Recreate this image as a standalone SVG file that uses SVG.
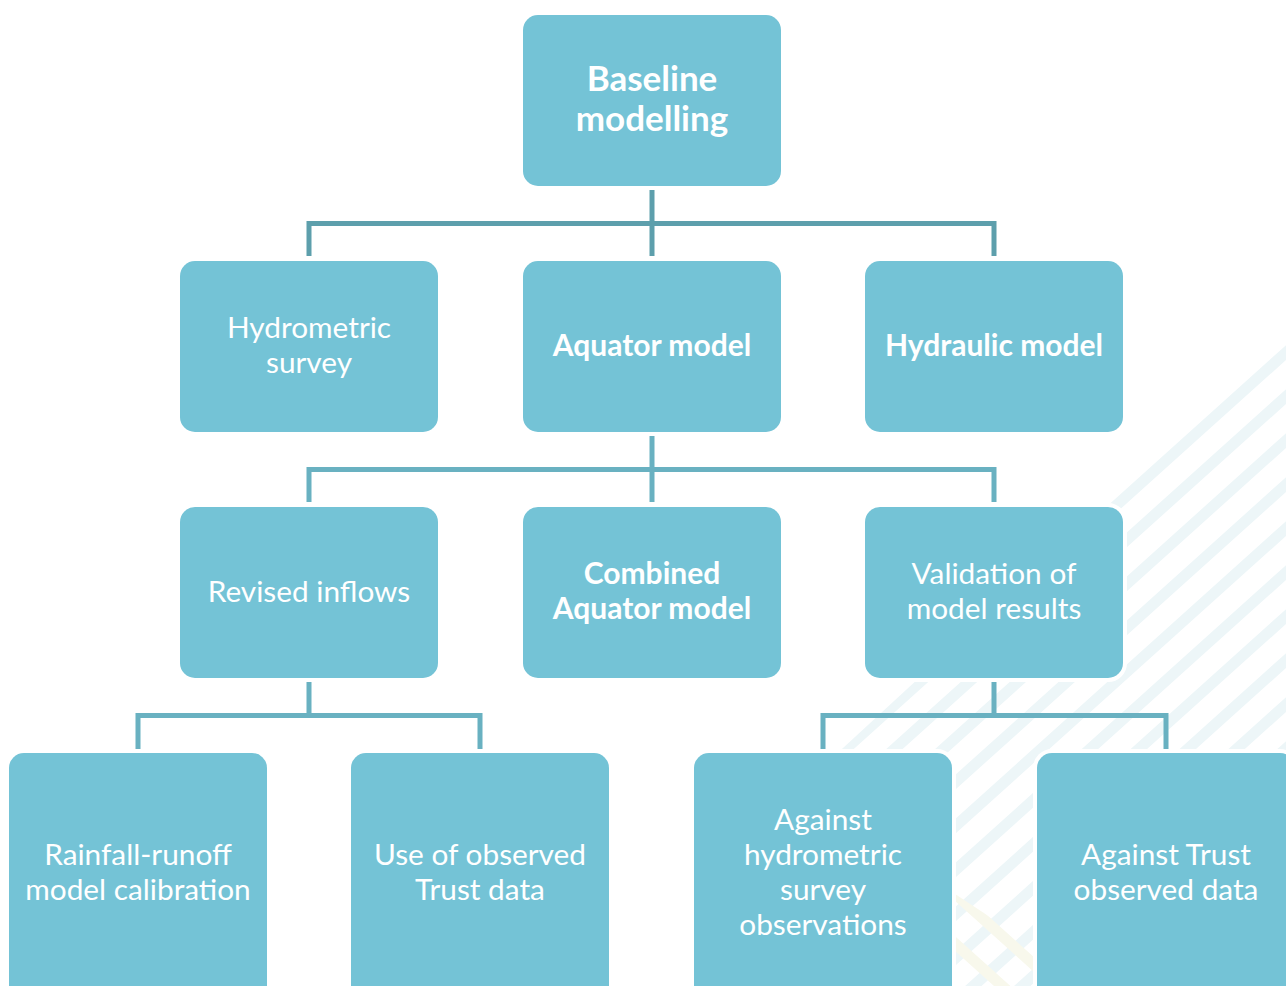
<svg xmlns="http://www.w3.org/2000/svg" width="1286" height="986" viewBox="0 0 1286 986">
<defs>
<style>
.box{fill:#74c3d6;stroke:#ffffff;stroke-width:8;paint-order:stroke}
.t{font-family:Lato,"Liberation Sans",sans-serif;font-size:29.8px;fill:#ffffff;text-anchor:middle}
.b{font-weight:bold;font-size:30px}
.big{font-size:35px}
.c1{fill:none;stroke:#5d9fac;stroke-width:5;stroke-linejoin:miter;stroke-linecap:butt}
.c2{fill:none;stroke:#69b1c1;stroke-width:5;stroke-linejoin:miter;stroke-linecap:butt}
.st{stroke:#edf6f8;stroke-width:11}
.sy{stroke:#f8f8ec;stroke-width:11}
</style>
<clipPath id="clipS"><polygon points="1286,340 1286,986 830,986 830,760"/></clipPath>
<clipPath id="clipY"><polygon points="952,892 1040,950 1040,986 952,986"/></clipPath>
</defs>
<rect width="1286" height="986" fill="#ffffff"/>
<g id="background" clip-path="url(#clipS)">
<path class="st" d="M600,970 L1300,340 M600,1014 L1300,384 M600,1058 L1300,428 M600,1102 L1300,472 M600,1146 L1300,516 M600,1190 L1300,560 M600,1234 L1300,604 M600,1278 L1300,648 M600,1322 L1300,692 M600,1366 L1300,736 M600,1410 L1300,780 M600,1454 L1300,824 M600,1498 L1300,868 M600,1542 L1300,912 M600,1586 L1300,956 M600,1630 L1300,1000"/>
</g>
<g id="background-yellow" clip-path="url(#clipY)">
<path class="sy" d="M940,880 L1050,979 M940,930 L1050,1029 M940,980 L1050,1079"/>
</g>
<g id="connectors">
<path class="c1" d="M652,188 V256 M309,256 V223.5 H994 V256"/>
<path class="c2" d="M652,434 V502 M309,502 V469.5 H994 V502"/>
<path class="c2" d="M309,680 V715.5 M138,750 V715.5 H480 V750"/>
<path class="c2" d="M994,680 V715.5 M823,750 V715.5 H1166 V750"/>
</g>
<g id="baseline-modelling">
<rect class="box" x="523" y="15" width="258" height="171" rx="15"/>
<text class="t b big" x="652" y="91">Baseline</text>
<text class="t b big" x="652" y="131">modelling</text>
</g>
<g id="hydrometric-survey">
<rect class="box" x="180" y="261" width="258" height="171" rx="15"/>
<text class="t" x="309" y="338">Hydrometric</text>
<text class="t" x="309" y="373">survey</text>
</g>
<g id="aquator-model">
<rect class="box" x="523" y="261" width="258" height="171" rx="15"/>
<text class="t b" x="652" y="356">Aquator model</text>
</g>
<g id="hydraulic-model">
<rect class="box" x="865" y="261" width="258" height="171" rx="15"/>
<text class="t b" x="994" y="356">Hydraulic model</text>
</g>
<g id="revised-inflows">
<rect class="box" x="180" y="507" width="258" height="171" rx="15"/>
<text class="t" x="309" y="602">Revised inflows</text>
</g>
<g id="combined-aquator-model">
<rect class="box" x="523" y="507" width="258" height="171" rx="15"/>
<text class="t b" x="652" y="584">Combined</text>
<text class="t b" x="652" y="619">Aquator model</text>
</g>
<g id="validation">
<rect class="box" x="865" y="507" width="258" height="171" rx="15"/>
<text class="t" x="994" y="584">Validation of</text>
<text class="t" x="994" y="619">model results</text>
</g>
<g id="rainfall-runoff">
<rect class="box" x="9" y="753" width="258" height="260" rx="15"/>
<text class="t" x="138" y="865">Rainfall-runoff</text>
<text class="t" x="138" y="900">model calibration</text>
</g>
<g id="observed-trust-data">
<rect class="box" x="351" y="753" width="258" height="260" rx="15"/>
<text class="t" x="480" y="865">Use of observed</text>
<text class="t" x="480" y="900">Trust data</text>
</g>
<g id="against-hydrometric">
<rect class="box" x="694" y="753" width="258" height="260" rx="15"/>
<text class="t" x="823" y="830">Against</text>
<text class="t" x="823" y="865">hydrometric</text>
<text class="t" x="823" y="900">survey</text>
<text class="t" x="823" y="935">observations</text>
</g>
<g id="against-trust">
<rect class="box" x="1037" y="753" width="258" height="260" rx="15"/>
<text class="t" x="1166" y="865">Against Trust</text>
<text class="t" x="1166" y="900">observed data</text>
</g>
</svg>
